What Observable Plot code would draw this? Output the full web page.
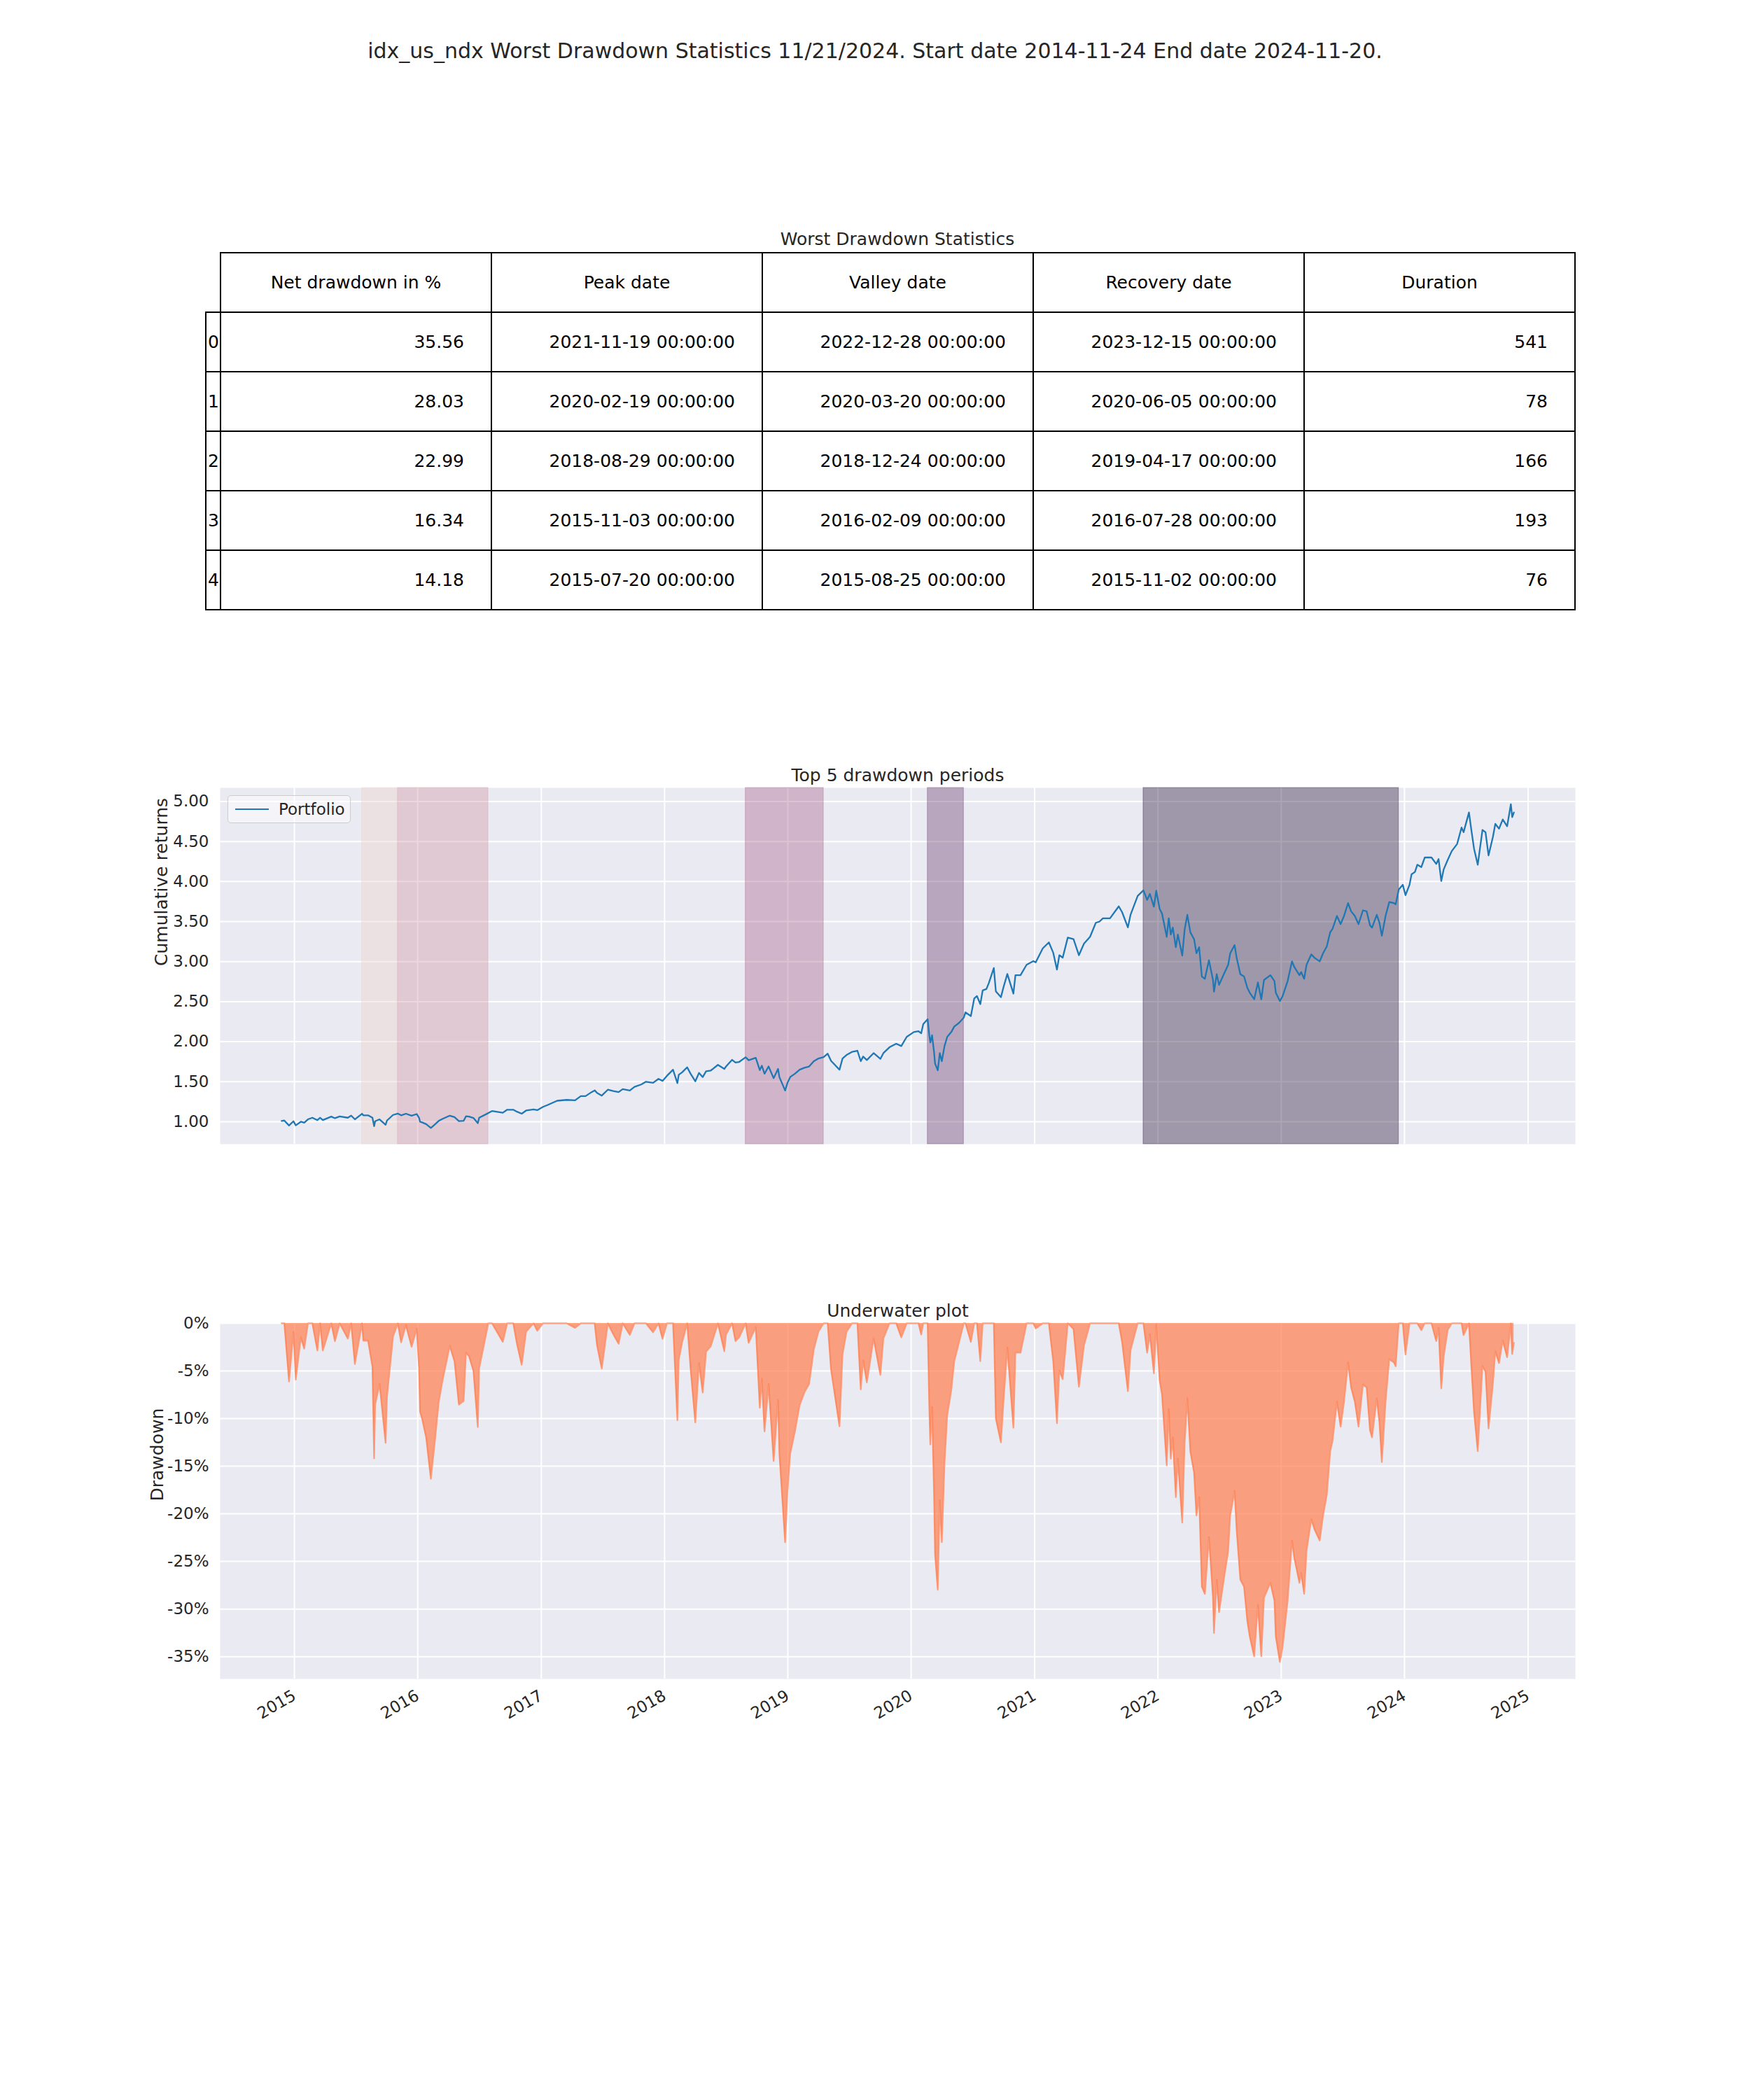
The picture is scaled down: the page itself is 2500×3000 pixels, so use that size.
<!DOCTYPE html>
<html>
<head>
<meta charset="utf-8">
<script src="https://cdn.jsdelivr.net/npm/d3@7"></script>
<script src="https://cdn.jsdelivr.net/npm/@observablehq/plot@0.6"></script>
<style>
  html, body { margin: 0; padding: 0; background: #fff; }
  #root { position: relative; width: 2500px; height: 3000px; background: #fff; font-family: "DejaVu Sans", sans-serif; color: #262626; overflow: hidden; }
  .abs { position: absolute; }
  #suptitle { left: 0; width: 2500px; top: 55px; text-align: center; font-size: 30px; line-height: 36px; }
  #tabletitle { left: 314px; width: 1936px; top: 327px; text-align: center; font-size: 25px; line-height: 30px; }
  table.dd { position: absolute; left: 293px; top: 360px; border-collapse: collapse; table-layout: fixed; font-size: 25px; color: #000; }
  table.dd td { border: 2px solid #000; height: 85px; padding: 0; vertical-align: middle; white-space: nowrap; box-sizing: border-box; }
  table.dd td.corner { border: none; }
  table.dd td.hdr { text-align: center; }
  table.dd td.num { text-align: right; padding-right: 38px; }
  table.dd td.idx { text-align: left; padding-left: 2px; }
  #legend { left: 325px; top: 1136px; width: 176px; height: 40px; box-sizing: border-box; border: 1px solid #cccccc; border-radius: 5px; background: rgba(255,255,255,0.5); }
  #legend .sw { position: absolute; left: 10px; top: 18px; width: 48px; height: 2.4px; background: #1f77b4; }
  #legend .lb { position: absolute; left: 72px; top: 5px; font-size: 23px; line-height: 28px; color: #262626; }
</style>
</head>
<body>
<div id="root">
  <div id="suptitle" class="abs"></div>
  <div id="tabletitle" class="abs"></div>
  <div id="tablewrap"></div>
  <div id="chart1" class="abs" style="left:0;top:1060px;"></div>
  <div id="chart2" class="abs" style="left:0;top:1820px;"></div>
  <div id="legend" class="abs"><div class="sw"></div><div class="lb"></div></div>
</div>
<script>
// ---------------- DATA ----------------
const suptitleText = "idx_us_ndx Worst Drawdown Statistics 11/21/2024. Start date 2014-11-24 End date 2024-11-20.";
const tableTitle = "Worst Drawdown Statistics";
const tableColumns = ["Net drawdown in %", "Peak date", "Valley date", "Recovery date", "Duration"];
const tableIndex = ["0", "1", "2", "3", "4"];
const netDrawdown = ["35.56", "28.03", "22.99", "16.34", "14.18"];
const peakDates = ["2021-11-19", "2020-02-19", "2018-08-29", "2015-11-03", "2015-07-20"];
const valleyDates = ["2022-12-28", "2020-03-20", "2018-12-24", "2016-02-09", "2015-08-25"];
const recoveryDates = ["2023-12-15", "2020-06-05", "2019-04-17", "2016-07-28", "2015-11-02"];
const durations = ["541", "78", "166", "193", "76"];
// cubehelix palette (reversed): worst drawdown darkest
const periodColors = ["#2D1E3E", "#6E4071", "#AA678F", "#D499A7", "#EDD1CB"];

const chart1Title = "Top 5 drawdown periods";
const chart1YLabel = "Cumulative returns";
const legendLabel = "Portfolio";
const chart2Title = "Underwater plot";
const chart2YLabel = "Drawdown";
const yearTickLabels = ["2015","2016","2017","2018","2019","2020","2021","2022","2023","2024","2025"];
const cumTicks = [1.0, 1.5, 2.0, 2.5, 3.0, 3.5, 4.0, 4.5, 5.0];
const ddTicks = [0, -5, -10, -15, -20, -25, -30, -35];

// cumulative returns
const cumDates = [
"2014-11-24","2014-12-02","2014-12-16","2014-12-29","2015-01-05","2015-01-20","2015-01-30","2015-02-10","2015-02-23","2015-03-10",
"2015-03-18","2015-03-26","2015-04-20","2015-05-01","2015-05-15","2015-06-08","2015-06-18","2015-06-29","2015-07-20","2015-07-24",
"2015-08-07","2015-08-20","2015-08-25","2015-08-28","2015-09-10","2015-09-28","2015-10-02","2015-10-20","2015-11-03","2015-11-13",
"2015-11-27","2015-12-14","2015-12-29","2016-01-05","2016-01-08","2016-01-15","2016-01-26","2016-02-09","2016-02-22","2016-03-03",
"2016-03-14","2016-04-05","2016-04-19","2016-05-02","2016-05-16","2016-05-23","2016-06-01","2016-06-14","2016-06-27","2016-07-01",
"2016-07-28","2016-08-08","2016-09-09","2016-09-22","2016-10-10","2016-10-21","2016-11-04","2016-11-17","2016-12-09","2016-12-20",
"2017-01-06","2017-01-20","2017-02-17","2017-03-17","2017-04-11","2017-04-28","2017-05-12","2017-05-30","2017-06-08","2017-06-15",
"2017-06-29","2017-07-17","2017-08-02","2017-08-18","2017-08-30","2017-09-20","2017-10-04","2017-10-24","2017-11-07","2017-11-28",
"2017-12-14","2017-12-26","2018-01-08","2018-01-26","2018-02-08","2018-02-12","2018-02-22","2018-03-09","2018-03-19","2018-04-02",
"2018-04-13","2018-04-24","2018-05-04","2018-05-18","2018-06-08","2018-06-27","2018-07-02","2018-07-20","2018-07-30","2018-08-10",
"2018-08-29","2018-09-07","2018-09-28","2018-10-10","2018-10-16","2018-10-24","2018-11-05","2018-11-20","2018-12-03","2018-12-07",
"2018-12-24","2018-12-31","2019-01-08","2019-01-22","2019-02-05","2019-02-19","2019-03-05","2019-03-19","2019-04-02","2019-04-17",
"2019-04-29","2019-05-09","2019-06-03","2019-06-12","2019-06-24","2019-07-10","2019-07-26","2019-08-05","2019-08-12","2019-08-23",
"2019-09-12","2019-10-02","2019-10-11","2019-10-29","2019-11-18","2019-12-03","2019-12-19","2020-01-09","2020-01-23","2020-01-31",
"2020-02-06","2020-02-19","2020-02-24","2020-02-27","2020-03-03","2020-03-09","2020-03-12","2020-03-20","2020-03-26","2020-04-01",
"2020-04-09","2020-04-17","2020-04-29","2020-05-08","2020-05-22","2020-06-05","2020-06-10","2020-06-26","2020-07-06","2020-07-14",
"2020-07-24","2020-07-31","2020-08-11","2020-08-18","2020-09-02","2020-09-08","2020-09-23","2020-10-01","2020-10-12","2020-10-30",
"2020-11-05","2020-11-20","2020-12-08","2020-12-28","2021-01-04","2021-01-25","2021-02-12","2021-02-25","2021-03-08","2021-03-15",
"2021-03-25","2021-04-09","2021-04-26","2021-05-12","2021-05-27","2021-06-14","2021-07-01","2021-07-12","2021-07-22","2021-08-12",
"2021-09-07","2021-09-17","2021-10-04","2021-10-12","2021-11-02","2021-11-19","2021-11-30","2021-12-08","2021-12-20","2021-12-27",
"2022-01-06","2022-01-13","2022-01-27","2022-02-02","2022-02-08","2022-02-14","2022-02-23","2022-03-01","2022-03-14","2022-03-21",
"2022-03-29","2022-04-07","2022-04-18","2022-04-25","2022-05-03","2022-05-11","2022-05-20","2022-06-01","2022-06-13","2022-06-16",
"2022-06-24","2022-07-01","2022-07-15","2022-07-28","2022-08-03","2022-08-16","2022-08-22","2022-09-02","2022-09-13","2022-09-23",
"2022-09-30","2022-10-13","2022-10-24","2022-11-03","2022-11-11","2022-11-30","2022-12-12","2022-12-16","2022-12-28","2023-01-05",
"2023-01-20","2023-02-02","2023-02-09","2023-02-24","2023-03-01","2023-03-10","2023-03-17","2023-03-31","2023-04-10","2023-04-25",
"2023-05-05","2023-05-16","2023-05-26","2023-06-02","2023-06-15","2023-06-26","2023-07-06","2023-07-18","2023-07-27","2023-08-07",
"2023-08-18","2023-08-31","2023-09-11","2023-09-21","2023-09-27","2023-10-11","2023-10-19","2023-10-26","2023-11-06","2023-11-17",
"2023-12-01","2023-12-06","2023-12-15","2023-12-27","2024-01-04","2024-01-16","2024-01-22","2024-02-01","2024-02-08","2024-02-20",
"2024-03-01","2024-03-21","2024-04-04","2024-04-11","2024-04-19","2024-04-26","2024-05-08","2024-05-20","2024-06-05","2024-06-18",
"2024-06-24","2024-07-10","2024-07-17","2024-07-25","2024-08-05","2024-08-19","2024-08-28","2024-09-06","2024-09-19","2024-09-26",
"2024-10-07","2024-10-18","2024-10-31","2024-11-11","2024-11-15","2024-11-20"
];
const cumValues = [
1.010,1.015,0.953,1.006,0.955,1.000,0.988,1.030,1.050,1.020,
1.050,1.020,1.064,1.044,1.067,1.050,1.076,1.030,1.100,1.080,
1.080,1.050,0.944,1.006,1.030,0.962,1.015,1.085,1.102,1.080,
1.100,1.075,1.096,1.050,1.000,0.990,0.970,0.922,0.970,1.010,
1.035,1.076,1.058,1.008,1.012,1.068,1.064,1.047,0.982,1.050,
1.108,1.134,1.112,1.150,1.150,1.125,1.100,1.140,1.154,1.145,
1.186,1.210,1.262,1.273,1.267,1.320,1.320,1.370,1.392,1.360,
1.326,1.400,1.384,1.370,1.407,1.390,1.436,1.465,1.500,1.486,
1.535,1.510,1.573,1.650,1.482,1.587,1.617,1.680,1.600,1.505,
1.610,1.558,1.630,1.640,1.710,1.660,1.690,1.773,1.740,1.747,
1.805,1.768,1.798,1.645,1.700,1.600,1.690,1.544,1.660,1.558,
1.390,1.486,1.558,1.600,1.650,1.674,1.690,1.756,1.790,1.808,
1.850,1.760,1.650,1.790,1.834,1.872,1.887,1.756,1.814,1.770,
1.857,1.785,1.857,1.930,1.974,1.945,2.060,2.120,2.130,2.105,
2.220,2.280,2.076,1.990,2.080,1.870,1.727,1.642,1.857,1.756,
1.945,2.060,2.120,2.190,2.235,2.300,2.366,2.320,2.540,2.570,
2.468,2.640,2.657,2.730,2.920,2.628,2.555,2.686,2.846,2.600,
2.830,2.830,2.960,3.006,2.990,3.166,3.240,3.110,2.900,3.080,
3.050,3.300,3.280,3.080,3.224,3.310,3.485,3.500,3.540,3.540,
3.690,3.616,3.427,3.587,3.820,3.890,3.770,3.846,3.686,3.885,
3.657,3.600,3.310,3.540,3.337,3.424,3.180,3.337,3.076,3.400,
3.584,3.366,3.280,3.105,3.180,2.814,2.785,3.017,2.770,2.625,
2.843,2.710,2.843,2.960,3.105,3.206,3.047,2.843,2.814,2.670,
2.610,2.530,2.740,2.530,2.770,2.830,2.756,2.610,2.507,2.567,
2.756,3.003,2.930,2.830,2.870,2.785,2.960,3.090,3.047,3.003,
3.105,3.190,3.366,3.410,3.570,3.468,3.570,3.730,3.628,3.570,
3.468,3.640,3.628,3.453,3.424,3.584,3.483,3.323,3.570,3.744,
3.730,3.715,3.900,3.960,3.830,3.960,4.090,4.120,4.210,4.180,
4.300,4.300,4.220,4.280,4.006,4.150,4.270,4.380,4.470,4.674,
4.616,4.863,4.645,4.410,4.210,4.645,4.616,4.326,4.560,4.720,
4.660,4.776,4.690,4.965,4.805,4.863
];

// ---------------- BUILD ----------------
const parse = d3.utcParse("%Y-%m-%d");
const series = cumDates.map((d, i) => ({date: parse(d), value: cumValues[i]}));
// underwater (drawdown from running maximum), as pyfolio computes it
let runMax = -Infinity;
const underwater = series.map(d => {
  runMax = Math.max(runMax, d.value);
  return {date: d.date, dd: -100 * (runMax - d.value) / runMax};
});
const periods = peakDates.map((p, i) => ({peak: parse(p), recovery: parse(recoveryDates[i]), color: periodColors[i]}));
const yearTicks = yearTickLabels.map(y => new Date(Date.UTC(+y, 0, 1)));
const xDomain = [parse("2014-05-26"), parse("2025-05-21")];

// titles
document.getElementById("suptitle").textContent = suptitleText;
document.getElementById("tabletitle").textContent = tableTitle;
document.querySelector("#legend .lb").textContent = legendLabel;

// table
(function() {
  const t = document.createElement("table");
  t.className = "dd";
  const cg = document.createElement("colgroup");
  [21, 387, 387, 387, 387, 387].forEach(w => { const c = document.createElement("col"); c.style.width = w + "px"; cg.appendChild(c); });
  t.appendChild(cg);
  const hr = document.createElement("tr");
  const corner = document.createElement("td"); corner.className = "corner"; hr.appendChild(corner);
  tableColumns.forEach(c => { const td = document.createElement("td"); td.className = "hdr"; td.textContent = c; hr.appendChild(td); });
  t.appendChild(hr);
  tableIndex.forEach((ix, i) => {
    const tr = document.createElement("tr");
    const cells = [ix, netDrawdown[i], peakDates[i] + " 00:00:00", valleyDates[i] + " 00:00:00", recoveryDates[i] + " 00:00:00", durations[i]];
    cells.forEach((v, j) => { const td = document.createElement("td"); td.className = j === 0 ? "idx" : "num"; td.textContent = v; tr.appendChild(td); });
    t.appendChild(tr);
  });
  document.getElementById("tablewrap").appendChild(t);
})();

const baseStyle = {fontFamily: "DejaVu Sans", fontSize: "23px", color: "#262626", background: "transparent", overflow: "visible"};

// chart 1: cumulative returns with drawdown periods (bands under the line, as matplotlib zorder)
const chart1 = Plot.plot({
  width: 2500, height: 594,
  marginLeft: 314, marginRight: 250, marginTop: 65, marginBottom: 20,
  style: baseStyle,
  x: {type: "utc", domain: xDomain, axis: null},
  y: {domain: [0.72, 5.17]},
  color: {type: "identity"},
  marks: [
    Plot.frame({fill: "#EAEAF2", stroke: null}),
    Plot.gridX(yearTicks, {stroke: "#ffffff", strokeOpacity: 1, strokeWidth: 2}),
    Plot.gridY(cumTicks, {stroke: "#ffffff", strokeOpacity: 1, strokeWidth: 2}),
    Plot.rect(periods, {x1: "peak", x2: "recovery", fill: "color", fillOpacity: 0.4, stroke: "color", strokeOpacity: 0.4, strokeWidth: 1}),
    Plot.line(series, {x: "date", y: "value", stroke: "#1f77b4", strokeWidth: 2.3}),
    Plot.axisY(cumTicks, {tickSize: 0, tickPadding: 16, tickFormat: d3.format(".2f"), label: null}),
    Plot.text([chart1Title], {frameAnchor: "top", dy: -18, lineAnchor: "middle", fontSize: 25}),
    Plot.text([chart1YLabel], {frameAnchor: "left", dx: -84, rotate: -90, lineAnchor: "middle", fontSize: 25})
  ]
});
document.getElementById("chart1").appendChild(chart1);

// chart 2: underwater
const chart2 = Plot.plot({
  width: 2500, height: 678,
  marginLeft: 314, marginRight: 250, marginTop: 70, marginBottom: 100,
  style: baseStyle,
  x: {type: "utc", domain: xDomain},
  y: {domain: [-37.34, 0]},
  marks: [
    Plot.frame({fill: "#EAEAF2", stroke: null}),
    Plot.gridX(yearTicks, {stroke: "#ffffff", strokeOpacity: 1, strokeWidth: 2}),
    Plot.gridY(ddTicks, {stroke: "#ffffff", strokeOpacity: 1, strokeWidth: 2}),
    Plot.areaY(underwater, {x: "date", y: "dd", fill: "coral", fillOpacity: 0.7}),
    Plot.lineY(underwater, {x: "date", y: "dd", stroke: "coral", strokeOpacity: 0.7, strokeWidth: 2.3}),
    Plot.axisY(ddTicks, {tickSize: 0, tickPadding: 16, tickFormat: d => `${d}%`, label: null}),
    Plot.axisX(yearTicks, {tickSize: 0, tickPadding: 22, tickRotate: -30, tickFormat: (d, i) => yearTickLabels[i], label: null}),
    Plot.text([chart2Title], {frameAnchor: "top", dy: -18, lineAnchor: "middle", fontSize: 25}),
    Plot.text([chart2YLabel], {frameAnchor: "left", dx: -90, rotate: -90, lineAnchor: "middle", fontSize: 25})
  ]
});
document.getElementById("chart2").appendChild(chart2);
</script>
</body>
</html>
